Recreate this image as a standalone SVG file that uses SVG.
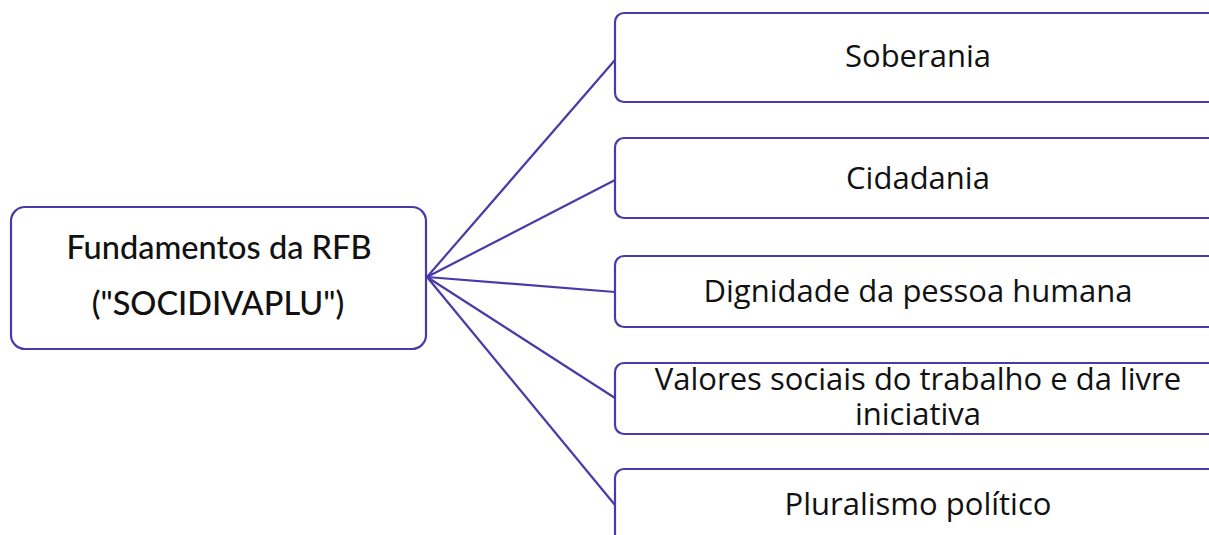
<svg xmlns="http://www.w3.org/2000/svg" width="1209" height="535" viewBox="0 0 1209 535">
<style>
.box{fill:#fff;stroke:#4a3aa8;stroke-width:2.2}
.ln{stroke:#4a3aa8;stroke-width:2.2;fill:none}
.t{font-family:"Open Sans","Noto Sans",sans-serif;font-size:31px;fill:#111;text-anchor:middle}
.m{font-family:Lato,"Noto Sans",sans-serif;font-size:32.5px;fill:#111;text-anchor:middle;font-weight:500}
</style>
<rect width="1209" height="535" fill="#fff"/>
<g id="connectors">
<line class="ln" x1="427" y1="277" x2="615" y2="60"/>
<line class="ln" x1="427" y1="277" x2="615" y2="180"/>
<line class="ln" x1="427" y1="277" x2="615" y2="292"/>
<line class="ln" x1="427" y1="277" x2="615" y2="398"/>
<line class="ln" x1="427" y1="277" x2="615" y2="505"/>
</g>
<g id="root">
<rect class="box" x="11" y="207" width="415" height="142" rx="14"/>
<text class="m" x="219" y="259">Fundamentos da RFB</text>
<text class="m" x="218" y="315">("SOCIDIVAPLU")</text>
</g>
<g id="n1">
<rect class="box" x="615" y="13" width="610" height="89" rx="9"/>
<text class="t" x="918" y="67">Soberania</text>
</g>
<g id="n2">
<rect class="box" x="615" y="138" width="610" height="80" rx="9"/>
<text class="t" x="918" y="189">Cidadania</text>
</g>
<g id="n3">
<rect class="box" x="615" y="256" width="610" height="71" rx="9"/>
<text class="t" x="918" y="302">Dignidade da pessoa humana</text>
</g>
<g id="n4">
<rect class="box" x="615" y="363" width="610" height="71" rx="9"/>
<text class="t" x="918" y="390">Valores sociais do trabalho e da livre</text>
<text class="t" x="918" y="425">iniciativa</text>
</g>
<g id="n5">
<rect class="box" x="615" y="469" width="610" height="90" rx="9"/>
<text class="t" x="918" y="515">Pluralismo político</text>
</g>
</svg>
